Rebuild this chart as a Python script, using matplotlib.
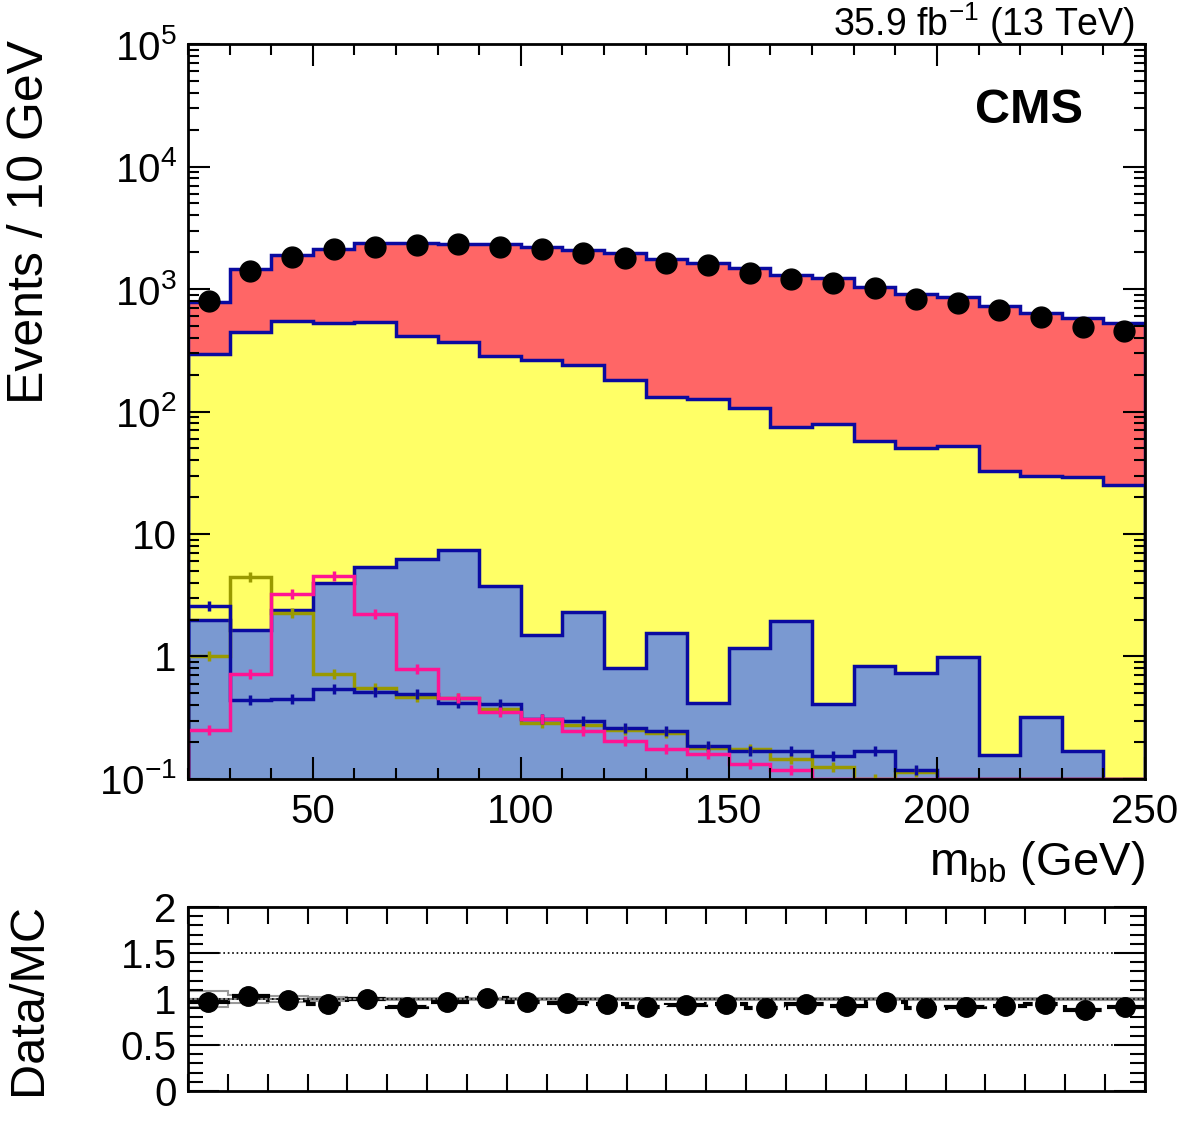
import numpy as np
import matplotlib
matplotlib.use('Agg')
import matplotlib.pyplot as plt
from matplotlib.ticker import MultipleLocator, FixedLocator, FixedFormatter, LogLocator, NullFormatter

plt.rcParams['font.family'] = ['Liberation Sans', 'DejaVu Sans']
plt.rcParams['mathtext.default'] = 'regular'

# binning (GeV)
edges = np.arange(20, 251, 10)
centers = edges[:-1] + 5

# observed events per bin
data = [798, 1409, 1815, 2105, 2189, 2287, 2352, 2203, 2121, 1977, 1782, 1622,
        1560, 1343, 1213, 1119, 1014, 828, 773, 670, 594, 492, 457]

# stacked backgrounds (cumulative tops)
total_mc = [787, 1449, 1896, 2121, 2388, 2388, 2352, 2317, 2215, 2100, 1955, 1746,
            1640, 1476, 1294, 1220, 1045, 916, 855, 726, 641, 583, 525]
yellow_top = [295, 443, 551, 531, 538, 416, 367, 286, 263, 240, 181, 132,
              127, 106, 75, 78.6, 57.8, 50, 52.6, 32.9, 29.9, 29.4, 25.1]
blue_top = [2.0, 1.66, 2.4, 3.96, 5.41, 6.21, 7.4, 3.76, 1.49, 2.32, 0.81, 1.56,
            0.42, 1.17, 1.95, 0.41, 0.84, 0.73, 0.99, 0.156, 0.32, 0.17, 0]

# overlaid lines
olive_line = [1.0, 4.43, 2.28, 0.72, 0.55, 0.47, 0.46, 0.37, 0.285, 0.276, 0.25, 0.236,
              0.178, 0.175, 0.145, 0.126, 0.1, 0.113, 0, 0, 0, 0, 0]
pink_line = [0.251, 0.72, 3.22, 4.54, 2.22, 0.786, 0.456, 0.355, 0.31, 0.248, 0.204, 0.177,
             0.16, 0.133, 0.118, 0, 0, 0, 0, 0, 0, 0, 0]
navy_line = [2.6, 0.442, 0.45, 0.543, 0.51, 0.494, 0.42, 0.41, 0.307, 0.296, 0.259, 0.248,
             0.187, 0.169, 0.169, 0.154, 0.169, 0.118, 0, 0, 0, 0, 0]

# ratio panel
ratio_edges = np.arange(20, 261, 10)
ratio_centers = ratio_edges[:-1] + 5
ratio = [0.967, 1.028, 0.985, 0.949, 1.0, 0.913, 0.963, 1.011, 0.963, 0.957, 0.946, 0.913,
         0.938, 0.949, 0.902, 0.946, 0.927, 0.971, 0.902, 0.913, 0.927, 0.946, 0.884, 0.909]
mc_unc = [0.09, 0.045, 0.03, 0.02, 0.015, 0.015, 0.012, 0.012, 0.01, 0.01, 0.01, 0.01,
          0.01, 0.01, 0.01, 0.01, 0.01, 0.01, 0.01, 0.01, 0.01, 0.01, 0.01, 0.01]

RED = '#FF6666'
YELLOW = '#FFFF66'
BLUE = '#7A99D1'
NAVY = '#0A0AA0'
OLIVE = '#999900'
PINK = '#FF1493'

fig = plt.figure(figsize=(11.82, 11.21), dpi=100)
ax = fig.add_axes([0.159, 0.3051, 0.8097, 0.6556])
rx = fig.add_axes([0.159, 0.0268, 0.8097, 0.1641])

ymin, ymax = 0.1, 1e5
base = 1e-3
blue_c = np.clip(blue_top, base, None)
ax.stairs(total_mc, edges, baseline=yellow_top, fill=True, color=RED, lw=0)
ax.stairs(yellow_top, edges, baseline=blue_c, fill=True, color=YELLOW, lw=0)
ax.stairs(blue_c, edges, baseline=base, fill=True, color=BLUE, lw=0)
ax.stairs(total_mc, edges, baseline=base, color=NAVY, lw=2.5)
ax.stairs(yellow_top, edges, baseline=base, color=NAVY, lw=2.5)
ax.stairs(blue_c, edges, baseline=base, color=NAVY, lw=2.5)

for vals, col in [(olive_line, OLIVE), (navy_line, NAVY), (pink_line, PINK)]:
    v = np.clip(vals, ymin, None)
    ax.stairs(v, edges, baseline=ymin, color=col, lw=2.5)
    m = np.array(vals) > 0
    ax.plot(centers[m], np.array(vals)[m], ls='none', marker='|', ms=7, mew=2.5, color=col)

ax.plot(centers, data, 'o', color='black', ms=15)

ax.set_yscale('log')
ax.set_xlim(20, 250)
ax.set_ylim(ymin, ymax)
ax.xaxis.set_major_locator(MultipleLocator(50))
ax.xaxis.set_minor_locator(MultipleLocator(10))
ax.yaxis.set_major_locator(FixedLocator([0.1, 1, 10, 100, 1e3, 1e4, 1e5]))
ax.yaxis.set_major_formatter(FixedFormatter([r'$10^{-1}$', '1', '10', r'$10^{2}$',
                                             r'$10^{3}$', r'$10^{4}$', r'$10^{5}$']))
ax.yaxis.set_minor_locator(LogLocator(base=10, subs=np.arange(2, 10), numticks=20))
ax.yaxis.set_minor_formatter(NullFormatter())
ax.tick_params(which='both', direction='in', top=True, right=True, width=1.5, labelsize=29)
ax.tick_params(which='major', length=16)
ax.tick_params(which='minor', length=8)
ax.tick_params(axis='x', pad=10)
ax.tick_params(axis='y', pad=8)
for s in ax.spines.values():
    s.set_linewidth(2)

ax.set_ylabel('Events / 10 GeV', fontsize=36, loc='top')
ax.yaxis.set_label_coords(-0.141, 1.005)
ax.set_xlabel(r'$m_{bb}$ (GeV)', fontsize=34, loc='right', labelpad=6)
ax.text(0.935, 0.91, 'CMS', transform=ax.transAxes, fontsize=35, fontweight='bold',
        ha='right', va='center')
ax.text(0.99, 1.011, r'35.9 fb$^{-1}$ (13 TeV)', transform=ax.transAxes, fontsize=27,
        ha='right', va='baseline')

# ratio panel
rx.axhline(0.5, color='black', ls=':', lw=1.2)
rx.axhline(1.5, color='black', ls=':', lw=1.2)
rx.axhline(1.0, color='gray', ls='-', lw=1.5)
rx.axhline(1.0, color='black', ls=':', lw=1.2)
up = 1 + np.array(mc_unc)
dn = 1 - np.array(mc_unc)
rx.stairs(up, ratio_edges, baseline=dn, fill=False, color='#999999', lw=1.5)
rx.stairs(ratio, ratio_edges, baseline=None, color='black', lw=3, ls=(0, (4, 2)))
rx.plot(ratio_centers, ratio, 'o', color='black', ms=14)
rx.set_xlim(20, 260)
rx.set_ylim(0, 2)
rx.xaxis.set_major_locator(MultipleLocator(10))
rx.xaxis.set_major_formatter(NullFormatter())
rx.yaxis.set_major_locator(FixedLocator([0, 0.5, 1, 1.5, 2]))
rx.yaxis.set_major_formatter(FixedFormatter(['0', '0.5', '1', '1.5', '2']))
rx.yaxis.set_minor_locator(MultipleLocator(0.1))
rx.tick_params(which='both', direction='in', top=True, right=True, width=1.5, labelsize=29)
rx.tick_params(axis='x', which='major', length=12)
rx.tick_params(axis='y', which='major', length=22, pad=8)
rx.tick_params(axis='y', which='minor', length=11)
for s in rx.spines.values():
    s.set_linewidth(2)
rx.set_ylabel('Data/MC', fontsize=35)
rx.yaxis.set_label_coords(-0.143, 0.5)

fig.savefig('out.png', dpi=100)
